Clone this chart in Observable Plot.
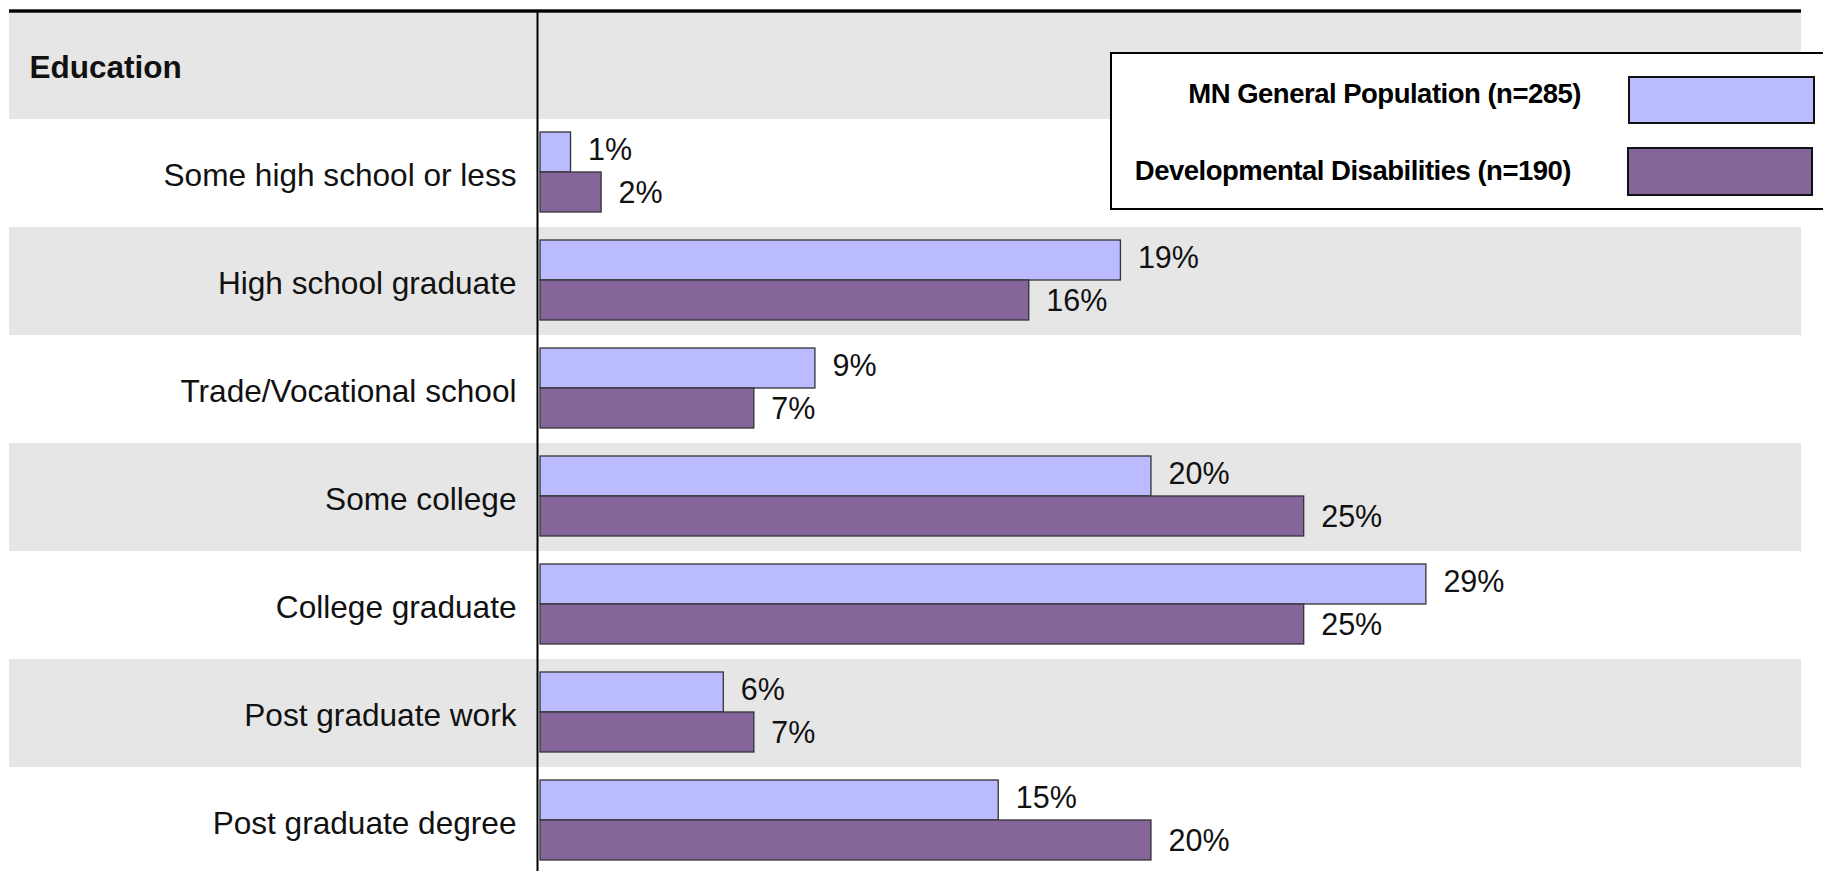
<!DOCTYPE html>
<html>
<head>
<meta charset="utf-8">
<script src="https://cdn.jsdelivr.net/npm/d3@7"></script>
<script src="https://cdn.jsdelivr.net/npm/@observablehq/plot@0.6"></script>
<style>
  html, body { margin: 0; padding: 0; background: #fff; overflow: hidden; }
  #wrap { position: relative; width: 1823px; height: 871px; overflow: hidden; font-family: "Liberation Sans", Arial, sans-serif; }
  #wrap svg { position: absolute; left: 0; top: 0; }
  .lg-box { position: absolute; left: 1110px; top: 52px; width: 800px; height: 158px; box-sizing: border-box; border: 2.5px solid #000; background: #fff; }
  .lg-sw { position: absolute; box-sizing: border-box; border: 2px solid #111; }
  .lg-tx { position: absolute; left: 0; text-align: right; font-weight: bold; font-size: 27.5px; line-height: 30px; color: #000; white-space: nowrap; letter-spacing: -0.5px; }
</style>
</head>
<body>
<div id="wrap"></div>
<script>
// ---- data ----
const header = "Education";
const categories = [
  "Some high school or less",
  "High school graduate",
  "Trade/Vocational school",
  "Some college",
  "College graduate",
  "Post graduate work",
  "Post graduate degree"
];
const seriesNames = ["MN General Population (n=285)", "Developmental Disabilities (n=190)"];
const genPop = [1, 19, 9, 20, 29, 6, 15];
const devDis = [2, 16, 7, 25, 25, 7, 20];
const colors = ["#BBBBFF", "#85659A"];
const shadedRows = ["Education", "High school graduate", "Some college", "Post graduate work"];

// ---- tables ----
const yDomain = [header, ...categories];
const genData = categories.map((c, i) => ({cat: c, value: genPop[i]}));
const ddData = categories.map((c, i) => ({cat: c, value: devDis[i]}));

const chart = Plot.plot({
  width: 1823,
  height: 871,
  marginLeft: 9,
  marginRight: 22,
  marginTop: 11,
  marginBottom: 0,
  x: {domain: [0, 42], range: [540, 1823], axis: null},
  y: {domain: yDomain, range: [11, 875], padding: 0, axis: null},
  style: {fontFamily: "'Liberation Sans', Arial, sans-serif", background: "transparent", overflow: "visible"},
  marks: [
    // alternating gray bands
    Plot.cell(shadedRows, {y: d => d, fill: "#E6E6E6"}),
    // top rule
    Plot.cell([header], {y: d => d, fill: "#000", insetTop: -1.7, insetBottom: 106.3}),
    // vertical axis line
    Plot.ruleX([0], {dx: -3, stroke: "#000", strokeWidth: 2}),
    // bars
    Plot.barX(genData, {x: "value", y: "cat", fill: colors[0], stroke: "#333", strokeWidth: 1.3, insetTop: 13, insetBottom: 55}),
    Plot.barX(ddData, {x: "value", y: "cat", fill: colors[1], stroke: "#333", strokeWidth: 1.3, insetTop: 53, insetBottom: 15}),
    // value labels
    Plot.text(genData, {x: "value", y: "cat", text: d => d.value + "%", dx: 17, dy: -23, textAnchor: "start", fontSize: 30.5, fill: "#111"}),
    Plot.text(ddData, {x: "value", y: "cat", text: d => d.value + "%", dx: 17, dy: 20, textAnchor: "start", fontSize: 30.5, fill: "#111"}),
    // category labels
    Plot.text(categories, {x: 0, y: d => d, text: d => d, textAnchor: "end", dx: -24, dy: 2.5, fontSize: 31.6, fill: "#111"}),
    // header label
    Plot.text([header], {y: d => d, text: d => d, frameAnchor: "left", dx: 20, dy: 2, textAnchor: "start", fontSize: 31.5, fontWeight: "bold", fill: "#111"})
  ]
});

const wrap = document.getElementById("wrap");
wrap.appendChild(chart);

// ---- legend (HTML overlay) ----
const box = document.createElement("div");
box.className = "lg-box";
wrap.appendChild(box);

const legendItems = [
  {name: seriesNames[0], color: colors[0], sw: {left: 1628, top: 76, w: 187, h: 48}, textRight: 1581, textMid: 94},
  {name: seriesNames[1], color: colors[1], sw: {left: 1627, top: 147, w: 186, h: 49}, textRight: 1571, textMid: 171}
];
for (const it of legendItems) {
  const sw = document.createElement("div");
  sw.className = "lg-sw";
  Object.assign(sw.style, {left: it.sw.left + "px", top: it.sw.top + "px", width: it.sw.w + "px", height: it.sw.h + "px", background: it.color});
  wrap.appendChild(sw);
  const tx = document.createElement("div");
  tx.className = "lg-tx";
  tx.textContent = it.name;
  Object.assign(tx.style, {width: it.textRight + "px", top: (it.textMid - 15) + "px"});
  wrap.appendChild(tx);
}
</script>
</body>
</html>
